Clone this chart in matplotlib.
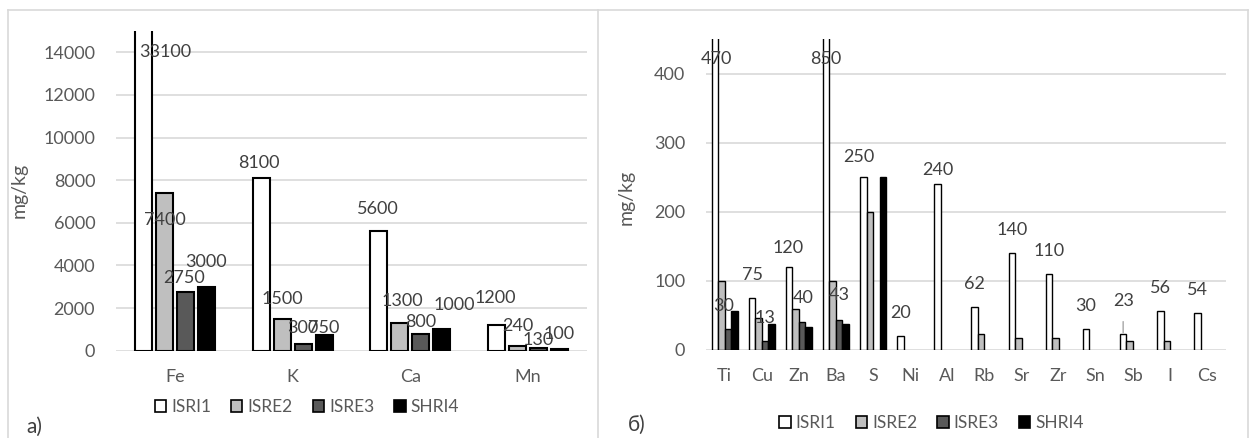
import numpy as np
import matplotlib
matplotlib.use("Agg")
import matplotlib.pyplot as plt
from matplotlib.patches import Patch
from matplotlib.lines import Line2D

plt.rcParams["font.family"] = ["Lato", "Open Sans", "DejaVu Sans"]

# ---- data -------------------------------------------------------------
series = ["ISRI1", "ISRE2", "ISRE3", "SHRI4"]

major_elements = ["Fe", "K", "Ca", "Mn"]
major_isri1 = [33100, 8100, 5600, 1200]
major_isre2 = [7400, 1500, 1300, 240]
major_isre3 = [2750, 300, 800, 130]
major_shri4 = [3000, 750, 1000, 100]

trace_elements = ["Ti", "Cu", "Zn", "Ba", "S", "Ni", "Al",
                  "Rb", "Sr", "Zr", "Sn", "Sb", "I", "Cs"]
trace_isri1 = [470, 75, 120, 850, 250, 20, 240, 62, 140, 110, 30, 23, 56, 54]
trace_isre2 = [100, 46, 60, 100, 200, 0, 0, 23, 17, 18, 0, 13, 13, 0]
trace_isre3 = [30, 13, 40, 43, 0, 0, 0, 0, 0, 0, 0, 0, 0, 0]
trace_shri4 = [56, 38, 33, 38, 250, 0, 0, 0, 0, 0, 0, 0, 0, 0]

# ---- style ------------------------------------------------------------
fills = ["#ffffff", "#bfbfbf", "#595959", "#000000"]
grid_c = "#d9d9d9"
tick_c = "#595959"
label_c = "#404040"
FS = 13

fig = plt.figure(figsize=(12.49, 4.38), dpi=100)
W, H = 1249, 438


def px_axes(x0, x1, ytop, ybot):
    return fig.add_axes([x0 / W, (H - ybot) / H, (x1 - x0) / W, (ybot - ytop) / H])


def draw_panel(ax, cats, values, ymax, ystep, pitch, width, lw,
               labelled, nudges, lift, leaders=()):
    x = np.arange(len(cats))
    n = len(values)
    bars = []
    for i, vals in enumerate(values):
        vals = np.asarray(vals, dtype=float)
        pos = x + (i - (n - 1) / 2) * pitch
        keep = vals > 0
        ax.bar(pos[keep], vals[keep], width=width, color=fills[i],
               edgecolor="black", linewidth=lw, zorder=3)
        bars.append((pos, vals))
    ax.set_xlim(-0.5, len(cats) - 0.5)
    ax.set_ylim(0, ymax)
    ax.set_yticks(np.arange(0, ymax, ystep))
    ax.set_xticks(x)
    ax.set_xticklabels(cats)
    ax.yaxis.grid(True, color=grid_c, linewidth=1.2)
    ax.set_axisbelow(True)
    for s in ax.spines.values():
        s.set_visible(False)
    ax.tick_params(length=0, labelsize=FS, colors=tick_c)
    ax.tick_params(axis="y", pad=15)
    ax.tick_params(axis="x", pad=13)
    ax.set_ylabel("mg/kg", fontsize=14, color=tick_c)

    for si, cis in labelled:
        pos, vals = bars[si]
        for ci in cis:
            v = vals[ci]
            dx, dy = nudges.get((si, ci), (0, 0))
            if v > ymax:
                xy = (pos[ci], 0.935 * ymax)
                off = (dx, -dy)
            else:
                xy = (pos[ci], v)
                off = (dx, lift - dy)
            txt = f"{int(v)}"
            if (si, ci) in leaders:
                ax.annotate(txt, xy=(pos[ci], v), xytext=off,
                            textcoords="offset pixels", ha="center", va="center",
                            fontsize=FS, color=label_c, zorder=5,
                            arrowprops=dict(arrowstyle="-", color="#a6a6a6",
                                            lw=1.0, shrinkA=7, shrinkB=1))
            else:
                ax.annotate(txt, xy=xy, xytext=off, textcoords="offset pixels",
                            ha="center", va="center", fontsize=FS,
                            color=label_c, zorder=5, annotation_clip=False)


# ---- panel a ----------------------------------------------------------
ax1 = px_axes(116, 587, 31, 350.7)
left_nudges = {
    (0, 0): (21.5, 0), (1, 0): (0, 47), (2, 0): (-1.5, 6), (3, 0): (0, -5),
    (0, 1): (-2.7, 5), (2, 1): (0, 4), (3, 1): (0, 13.6),
    (0, 2): (-1, -2), (1, 2): (2.5, -2), (2, 2): (0, 8), (3, 2): (12, -4),
    (0, 3): (-1.75, -7), (2, 3): (0, 12), (3, 3): (0, 5),
}
draw_panel(ax1, major_elements,
           [major_isri1, major_isre2, major_isre3, major_shri4],
           15000, 2000, 0.178, 0.145, 1.5,
           [(0, range(4)), (1, range(4)), (2, range(4)), (3, range(4))],
           left_nudges, 20)
ax1.yaxis.set_label_coords(-0.187, 0.5)

# ---- panel b ----------------------------------------------------------
ax2 = px_axes(706, 1225.7, 39.3, 350)
right_nudges = {
    (0, 0): (2, 0), (0, 1): (1, 0), (0, 2): (-1, 4), (0, 4): (-4, 2.7),
    (0, 6): (0, 9), (0, 11): (0, -10),
    (2, 0): (-4.5, 0), (2, 2): (1, -1), (2, 3): (0, -2),
}
draw_panel(ax2, trace_elements,
           [trace_isri1, trace_isre2, trace_isre3, trace_shri4],
           450, 100, 0.175, 0.175, 1.0,
           [(0, range(14)), (2, range(4))],
           right_nudges, 23, leaders={(0, 11)})
ax2.yaxis.set_label_coords(-0.137, 0.49)

# ---- legends ----------------------------------------------------------
handles = [Patch(facecolor=f, edgecolor="black", linewidth=1.2) for f in fills]
for cx, cy in [(307, 407), (931.7, 423)]:
    fig.legend(handles, series, loc="center", bbox_to_anchor=(cx / W, (H - cy) / H),
               ncol=4, frameon=False, fontsize=12.5, handlelength=0.65,
               handleheight=0.65, handletextpad=0.3, columnspacing=1.15,
               labelcolor=tick_c, borderpad=0, borderaxespad=0)

# ---- panel captions and frames -----------------------------------------
fig.text(26 / W, (H - 427) / H, "a)", fontsize=15, color=label_c, va="center")
fig.text(628 / W, (H - 425) / H, "б)", fontsize=15, color=label_c, va="center")

frame_c = "#d9d9d9"
for xs, ys in [([8, 8], [10, H]), ([8, 1248], [10, 10]),
               ([597.5, 597.5], [10, H]), ([1248, 1248], [10, H])]:
    fig.add_artist(Line2D([x / W for x in xs], [(H - y) / H for y in ys],
                          color=frame_c, linewidth=1.2))

fig.savefig("out.png", dpi=100)
